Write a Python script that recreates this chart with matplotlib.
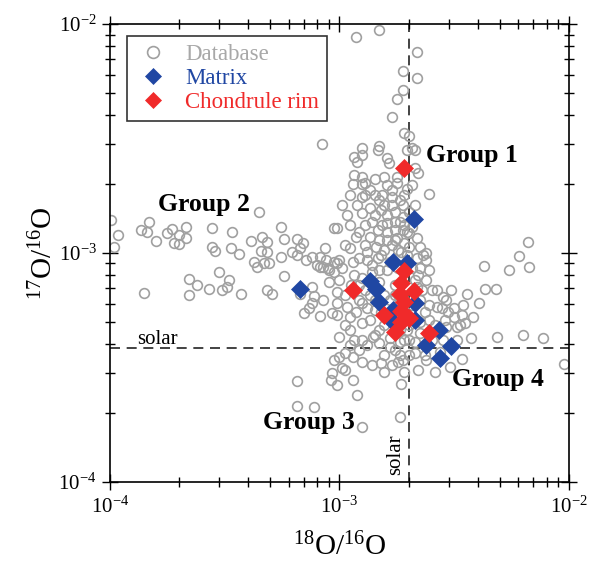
import numpy as np
import matplotlib
matplotlib.use("Agg")
import matplotlib.pyplot as plt

plt.rcParams['font.family'] = ['Liberation Serif', 'DejaVu Serif']
plt.rcParams['mathtext.fontset'] = 'custom'
plt.rcParams['mathtext.rm'] = 'Liberation Serif'
plt.rcParams['mathtext.it'] = 'Liberation Serif:italic'
plt.rcParams['mathtext.bf'] = 'Liberation Serif:bold'
plt.rcParams['axes.unicode_minus'] = False

# ---- data: log10 of isotope ratios ----
# Database (grey open circles): log10(18O/16O), log10(17O/16O)
db_log18 = [
 -3.995,-3.964,-3.981,-3.863,-3.828,-3.837,-3.798,-3.750,-3.728,-3.719,-3.698,-3.698,-3.667,-3.667,
 -3.554,-3.554,-3.541,-3.467,-3.471,-3.436,-3.384,-3.349,-3.336,-3.318,-3.340,-3.314,-3.371,-3.358,
 -3.327,-3.305,-3.253,-3.253,-3.240,-3.187,-3.205,-3.174,-3.161,-3.183,-3.144,-3.118,-3.087,-3.087,
 -3.044,-3.013,-3.013,-3.240,-3.523,-3.480,-3.654,-3.619,-3.567,-3.514,-3.488,-3.850,-3.654,-3.427,
 -3.314,-3.292,-3.174,-3.118,-3.109,-3.118,-3.131,-3.153,-3.087,-3.031,-3.100,-3.052,-3.013,-3.078,
 -2.926,-2.826,-2.664,-2.725,-2.664,-2.725,-2.751,-2.773,-2.717,-2.686,-2.673,-2.708,-2.904,-2.826,
 -2.834,-2.935,-2.900,-2.922,-2.795,-2.786,-2.673,-2.660,-2.935,-2.904,-2.943,-2.900,-2.847,-2.804,
 -2.751,-2.795,-2.751,-2.708,-2.608,-2.891,-2.847,-2.695,-2.891,-2.900,-2.813,-2.773,-2.738,-2.725,
 -2.904,-2.869,-2.817,-2.795,-2.760,-2.725,-2.738,-3.022,-2.795,-2.834,-2.795,-2.760,-2.725,-2.926,
 -2.869,-2.795,-2.751,-2.717,-2.839,-2.878,-2.913,-3.000,-3.057,-3.074,-2.987,-2.943,-2.882,-2.817,
 -2.664,-2.638,-2.621,-2.651,-2.695,-2.664,-2.695,-2.682,-3.022,-3.022,-3.000,-2.978,-3.013,-2.969,
 -3.013,-2.956,-2.926,-2.900,-2.904,-2.956,-3.000,-2.900,-2.856,-2.826,-2.782,-2.738,-2.695,-2.651,
 -2.673,-2.621,-2.660,-2.725,-2.773,-2.817,-2.860,-2.904,-2.943,-2.978,-3.000,-3.022,-3.031,-2.987,
 -2.943,-2.922,-3.013,-2.900,-2.738,-2.734,-3.187,-3.187,-3.109,-3.035,-2.586,-2.629,-2.608,-2.577,
 -2.551,-2.555,-2.529,-2.499,-2.499,-2.468,-2.464,-2.446,-2.420,-2.455,-2.490,-2.534,-2.551,-2.490,
 -2.468,-2.520,-2.595,-2.651,-2.621,-2.608,-2.621,-2.664,-2.534,-2.477,-2.429,-2.390,-2.180,-2.220,
 -2.176,-2.372,-2.263,-2.368,-2.320,-2.315,-2.202,-2.115,-2.023,-2.782,-2.826,-2.760,-2.804,-2.847,
 -2.738,-2.695,-2.651,-2.608,-2.913,-2.869,-2.935,-2.804,-2.760,-2.717,-2.773,-2.978,-2.956,-2.991,
 -2.956,-2.673,-2.686,-3.065,-3.044,-3.074,-2.956,-2.577,-2.512,-2.695,-2.564,
 -2.804,-2.760,-2.826,-2.704,-2.747,-2.791,-2.860,-2.891,-2.847,-2.782,-2.869,-2.826,-2.717,-2.913,
 -2.673,-2.642,-2.704,-2.860,-2.913,-2.956,-2.969,-2.834,-2.686,-2.738,-2.804,-2.586,-2.542,-2.629,
 -2.878,
 -2.869,-2.773,-2.826,-2.717,-2.922,-2.847,-2.773,-2.695,-2.891,-2.813,-2.717,-2.760,-2.891,-2.804,
 -2.730,-2.860,-2.747,-2.660,-2.900,-2.826,-2.948,-2.760,-2.686,-2.878,-2.817,-2.760,-2.704,-2.847,
 -2.782,-2.651,-2.599,-2.978,-2.935,-2.673,-2.629,-2.747,-2.913,-2.974,-2.804,-2.717]
db_log17 = [
 -2.856,-2.922,-2.974,-2.900,-2.865,-2.908,-2.948,-2.913,-2.895,-2.956,-2.961,-2.922,-2.887,-2.935,
 -2.891,-2.974,-2.991,-2.908,-2.978,-3.004,-2.948,-2.821,-2.930,-2.952,-2.991,-2.996,-3.039,-3.061,
 -3.044,-3.044,-2.887,-3.017,-2.939,-2.939,-2.996,-2.978,-2.956,-3.009,-3.031,-3.017,-3.017,-3.061,
 -3.074,-2.891,-3.044,-3.100,-3.083,-3.118,-3.113,-3.140,-3.157,-3.161,-3.148,-3.174,-3.183,-3.179,
 -3.161,-3.179,-3.179,-3.148,-3.187,-3.218,-3.240,-3.262,-3.275,-3.262,-3.052,-3.065,-3.170,-2.525,
 -2.058,-2.028,-2.124,-2.206,-2.237,-2.289,-2.329,-2.407,-2.477,-2.542,-2.551,-2.551,-2.542,-2.533,
 -2.551,-2.581,-2.573,-2.603,-2.586,-2.608,-2.629,-2.651,-2.660,-2.669,-2.699,-2.699,-2.677,-2.669,
 -2.669,-2.704,-2.695,-2.721,-2.743,-2.747,-2.747,-2.490,-2.695,-2.756,-2.747,-2.756,-2.769,-2.791,
 -2.826,-2.804,-2.813,-2.834,-2.821,-2.843,-2.865,-2.891,-2.869,-2.900,-2.908,-2.900,-2.900,-2.930,
 -2.930,-2.943,-2.935,-2.956,-2.974,-2.996,-3.022,-3.031,-3.031,-3.061,-3.065,-3.039,-3.031,-3.009,
 -3.022,-3.009,-3.031,-3.065,-2.974,-2.935,-2.913,-2.887,-3.039,-3.083,-3.118,-3.183,-3.218,-3.235,
 -3.270,-3.279,-3.257,-3.218,-3.305,-3.336,-3.366,-3.379,-3.366,-3.392,-3.410,-3.388,-3.379,-3.349,
 -3.436,-3.467,-3.510,-3.467,-3.488,-3.480,-3.488,-3.475,-3.453,-3.436,-3.453,-3.467,-3.523,-3.501,
 -3.554,-3.619,-3.576,-3.759,-3.715,-3.571,-3.558,-3.667,-3.671,-3.554,-3.519,-3.257,-3.227,-3.235,
 -3.192,-3.240,-3.257,-3.240,-3.279,-3.270,-3.227,-3.179,-3.279,-3.305,-3.323,-3.323,-3.379,-3.379,
 -3.462,-3.497,-3.379,-2.974,-3.000,-3.074,-3.118,-3.148,-3.205,-3.314,-3.371,-3.218,-2.952,-3.013,
 -3.061,-3.057,-3.074,-3.157,-3.157,-3.366,-3.358,-3.371,-3.484,-3.039,-3.074,-3.140,-3.183,-3.249,
 -3.336,-3.314,-3.205,-3.292,-3.140,-3.183,-3.096,-3.314,-3.423,-3.205,-2.965,-2.965,-2.878,-2.791,
 -2.747,-2.791,-2.704,-2.978,-3.126,-3.205,-3.401,-3.161,-3.161,-3.445,-3.432,
 -2.791,-2.865,-2.943,-3.009,-2.987,-3.074,-3.083,-3.161,-3.205,-3.205,-3.292,-3.336,-3.379,-3.205,
 -3.118,-3.161,-2.908,-2.865,-2.908,-2.978,-2.834,-3.022,-3.065,-3.445,-3.445,-3.314,-3.292,-3.401,
 -3.401,
 -2.725,-2.725,-2.769,-2.747,-2.791,-2.834,-2.791,-2.821,-2.878,-2.878,-2.878,-2.943,-2.965,-2.987,
 -2.996,-3.052,-3.065,-3.096,-3.109,-3.126,-3.140,-3.183,-3.227,-3.240,-3.257,-3.301,-3.336,-3.358,
 -3.371,-3.301,-3.161,-3.314,-3.379,-3.388,-3.445,-3.475,-3.423,-3.510,-3.519,-3.519]

# Matrix (blue diamonds)
matrix_log18 = [-3.170,-2.677,-2.765,-2.708,-2.869,-2.843,-2.826,-2.769,-2.669,-2.673,-2.773,-2.568,-2.621,-2.512,-2.564]
matrix_log17 = [-3.157,-2.852,-3.039,-3.044,-3.122,-3.157,-3.214,-3.249,-3.218,-3.292,-3.296,-3.336,-3.401,-3.405,-3.458]

# Chondrule rim (red diamonds)
rim_log18 = [-2.721,-2.939,-2.717,-2.730,-2.738,-2.677,-2.804,-2.730,-2.695,-2.734,-2.760,-2.608,-2.721]
rim_log17 = [-2.629,-3.161,-3.078,-3.131,-3.179,-3.166,-3.270,-3.253,-3.283,-3.301,-3.344,-3.349,-3.214]

solar_18O16O = 2.005e-3
solar_17O16O = 3.829e-4

group_labels = ["Group 1", "Group 2", "Group 3", "Group 4"]

# ---- plot ----
fig = plt.figure(figsize=(5.9, 5.64), dpi=100)
ax = fig.add_axes([0.1864, 0.1454, 0.778, 0.812])

grey = '#a0a0a0'
blue = '#2047a3'
red = '#f02a2a'

ax.axvline(solar_18O16O, color='#222222', lw=1.2, ls=(0, (6, 4)), zorder=1)
ax.axhline(solar_17O16O, color='#222222', lw=1.2, ls=(0, (6, 4)), zorder=1)

ax.plot(10 ** np.array(db_log18), 10 ** np.array(db_log17), ls='none', marker='o',
        ms=7, mfc='none', mec=grey, mew=1.2, label='Database', zorder=2)
ax.plot(10 ** np.array(matrix_log18), 10 ** np.array(matrix_log17), ls='none', marker='D',
        ms=9.5, mfc=blue, mec=blue, mew=0.5, label='Matrix', zorder=3)
ax.plot(10 ** np.array(rim_log18), 10 ** np.array(rim_log17), ls='none', marker='D',
        ms=9.5, mfc=red, mec=red, mew=0.5, label='Chondrule rim', zorder=4)

ax.set_xscale('log')
ax.set_yscale('log')
ax.set_xlim(1e-4, 1e-2)
ax.set_ylim(1e-4, 1e-2)

for sp in ax.spines.values():
    sp.set_linewidth(1.2)
ax.tick_params(which='both', direction='inout', top=True, right=True, width=1.0)
ax.tick_params(which='major', length=11, labelsize=15, pad=5)
ax.tick_params(which='minor', length=7)
ax.tick_params(axis='y', which='major', pad=4)

ax.set_xlabel(r'$^{18}$O/$^{16}$O', fontsize=21, labelpad=11)
ax.set_ylabel(r'$^{17}$O/$^{16}$O', fontsize=21)
ax.yaxis.set_label_coords(-0.112, 0.5)

leg = ax.legend(loc='upper left', bbox_to_anchor=(0.037, 0.974), borderaxespad=0,
                fontsize=16.5, frameon=True, fancybox=False, handletextpad=0.6,
                handlelength=1.6, borderpad=0.35, labelspacing=0.12,
                labelcolor=['#a8a8a8', blue, red])
leg.get_frame().set_edgecolor('black')
leg.get_frame().set_linewidth(1.2)
for h in leg.legend_handles:
    h.set_markersize(8.5)

gkw = dict(transform=ax.transAxes, fontsize=18.5, fontweight='bold', va='center', ha='left')
ax.text(0.688, 0.714, group_labels[0], **gkw)
ax.text(0.105, 0.605, group_labels[1], **gkw)
ax.text(0.333, 0.131, group_labels[2], **gkw)
ax.text(0.745, 0.223, group_labels[3], **gkw)

ax.text(0.059, 0.312, 'solar', transform=ax.transAxes, fontsize=15, va='center', ha='left')
ax.text(0.623, 0.059, 'solar', transform=ax.transAxes, fontsize=15, va='center', ha='center',
        rotation=90)

fig.savefig('out.png', dpi=100)
